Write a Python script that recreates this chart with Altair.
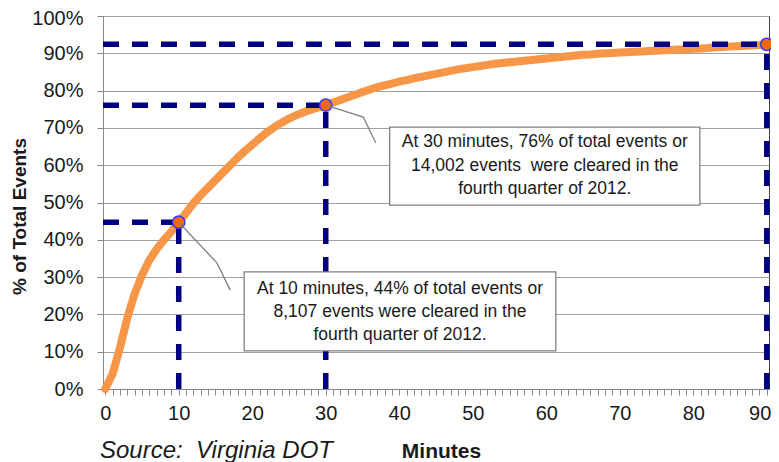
import altair as alt
import pandas as pd

# ---- data ----
minutes = list(range(0, 91))
pct_cleared = [
    0, 4, 11, 19, 25.5, 30.5, 34.5, 37.5, 40, 42.2,
    44.7, 47.2, 49.8, 52, 54, 56, 58, 60, 62, 63.8,
    65.5, 67.2, 68.8, 70.2, 71.4, 72.5, 73.4, 74.2, 74.9, 75.5,
    76.1, 76.8, 77.5, 78.2, 78.9, 79.6, 80.3, 80.9, 81.4, 81.9,
    82.4, 82.8, 83.3, 83.7, 84.1, 84.5, 84.9, 85.3, 85.7, 86.0,
    86.3, 86.6, 86.9, 87.2, 87.4, 87.6, 87.8, 88.0, 88.2, 88.4,
    88.6, 88.8, 89.0, 89.2, 89.4, 89.6, 89.7, 89.9, 90.0, 90.1,
    90.2, 90.3, 90.4, 90.5, 90.6, 90.7, 90.8, 90.9, 91.0, 91.1,
    91.2, 91.3, 91.4, 91.6, 91.7, 91.8, 91.9, 92.0, 92.1, 92.2,
    92.4,
]

highlight_min = [10, 30, 90]
highlight_pct = [44.7, 76.1, 92.4]

x_domain = [-0.3, 90.3]
y_domain = [0, 100]
x_tick_values = list(range(0, 91))
y_tick_values = list(range(0, 101, 10))

# annotation boxes (data coordinates)
box_x = [18.9, 38.7]
box_x2 = [61.3, 80.9]
box_y = [31.4, 70.2]
box_y2 = [10.2, 49.3]

note_lines = [
    ["At 10 minutes, 44% of total events or",
     "8,107 events were cleared in the",
     "fourth quarter of 2012."],
    ["At 30 minutes, 76% of total events or",
     "14,002 events\u00a0 were cleared in the",
     "fourth quarter of 2012."],
]
note_center_x = [40.1, 59.8]
note_line_y = [[26.8, 20.6, 14.5], [66.2, 59.8, 53.6]]

# callout leader lines
leader_note = [0, 0, 0, 1, 1, 1]
leader_order = [0, 1, 2, 0, 1, 2]
leader_min = [10, 15.2, 17.0, 30, 35.1, 36.8]
leader_pct = [44.7, 33.8, 26.5, 76.1, 72.9, 66.0]

source_text = "Source:\u00a0 Virginia DOT"

FONT = "Liberation Sans"
NAVY = "#000080"

# ---- tables ----
curve_df = pd.DataFrame({"minute": minutes, "pct": pct_cleared})
hl_df = pd.DataFrame({"minute": highlight_min, "pct": highlight_pct,
                      "x0": [x_domain[0]] * 3, "y0": [0] * 3})
box_df = pd.DataFrame({"minute": box_x, "x2": box_x2, "pct": box_y, "y2": box_y2})
txt_rows = []
for i, lines in enumerate(note_lines):
    for j, t in enumerate(lines):
        txt_rows.append({"minute": note_center_x[i], "pct": note_line_y[i][j], "t": t})
txt_df = pd.DataFrame(txt_rows)
lead_df = pd.DataFrame({"note": leader_note, "o": leader_order,
                        "minute": leader_min, "pct": leader_pct})
src_df = pd.DataFrame({"t": [source_text]})

xs = alt.Scale(domain=x_domain, nice=False, zero=False)
ys = alt.Scale(domain=y_domain, nice=False)

x_axis = alt.Axis(
    values=x_tick_values,
    labelExpr="datum.value % 10 == 0 ? datum.value : ''",
    labelOverlap=False, labelFlush=False,
    labelAlign={"condition": {"test": "datum.value == 90", "value": "right"},
                "value": "center"},
    labelOffset={"condition": {"test": "datum.value == 90", "value": 4},
                 "value": 0},
    grid=False, tickSize=6, tickColor="#888888", domainColor="#888888",
    labelFont=FONT, labelFontSize=20, labelColor="#1a1a1a", labelPadding=8,
    title="Minutes", titleFont=FONT, titleFontSize=21, titleFontWeight="bold",
    titleColor="#1a1a1a", titleX=338, titleY=68, titleBaseline="alphabetic",
    titleAnchor="start", titleAlign="center",
)
y_axis = alt.Axis(
    values=y_tick_values,
    labelExpr="datum.value + '%'",
    labelOffset={"condition": {"test": "datum.value == 100", "value": 2},
                 "value": 0},
    grid=True, gridColor="#a0a0a0", gridWidth=1,
    tickSize=6, tickColor="#888888", domainColor="#888888",
    labelFont=FONT, labelFontSize=20, labelColor="#1a1a1a", labelPadding=14,
    title="% of Total Events", titleFont=FONT, titleFontSize=19,
    titleFontWeight="bold", titleColor="#1a1a1a",
    titleX=-84, titleY=200, titleBaseline="middle", titleAlign="center",
    titleAngle=270,
)

X = lambda f: alt.X(f, scale=xs, axis=x_axis)
Y = lambda f: alt.Y(f, scale=ys, axis=y_axis)

curve = alt.Chart(curve_df).mark_line(
    color="#f79646", strokeWidth=8, strokeCap="round", strokeJoin="round"
).encode(x=X("minute:Q"), y=Y("pct:Q"))

dash = dict(color=NAVY, strokeWidth=5.5, strokeDash=[16, 13])
h_rules = alt.Chart(hl_df).mark_rule(**dash).encode(
    x=X("x0:Q"), x2="minute:Q", y=Y("pct:Q"),
)
v_rules = alt.Chart(hl_df).mark_rule(**dash).encode(
    x=X("minute:Q"), y=Y("y0:Q"), y2="pct:Q",
)
points = alt.Chart(hl_df).mark_point(
    filled=True, fill="#ff6600", stroke="#3b3bff", strokeWidth=1.6,
    size=150, opacity=1
).encode(x=X("minute:Q"), y=Y("pct:Q"))
leaders = alt.Chart(lead_df).mark_line(color="#808080", strokeWidth=1.3).encode(
    x=X("minute:Q"), y=Y("pct:Q"), detail="note:N", order="o:Q",
)
boxes = alt.Chart(box_df).mark_rect(
    fill="white", stroke="#808080", strokeWidth=1.3
).encode(x=X("minute:Q"), x2="x2:Q", y=Y("pct:Q"), y2="y2:Q")
texts = alt.Chart(txt_df).mark_text(
    font=FONT, fontSize=17.5, color="#1a1a1a", align="center", baseline="middle"
).encode(x=X("minute:Q"), y=Y("pct:Q"), text="t:N")
source = alt.Chart(src_df).mark_text(
    font=FONT, fontSize=24, fontStyle="italic", color="#1a1a1a",
    align="left", baseline="alphabetic"
).encode(x=alt.value(-3), y=alt.value(442), text="t:N")

chart = alt.layer(
    curve, h_rules, v_rules, points, leaders, boxes, texts, source
).properties(
    width=666, height=373,
    autosize=alt.AutoSizeParams(type="none"),
    padding={"left": 95, "top": 8, "right": 2, "bottom": 77},
    background="white",
).configure_view(stroke="#404040", strokeWidth=1)

chart.save("out.html", embed_options={"renderer": "svg", "actions": False})
